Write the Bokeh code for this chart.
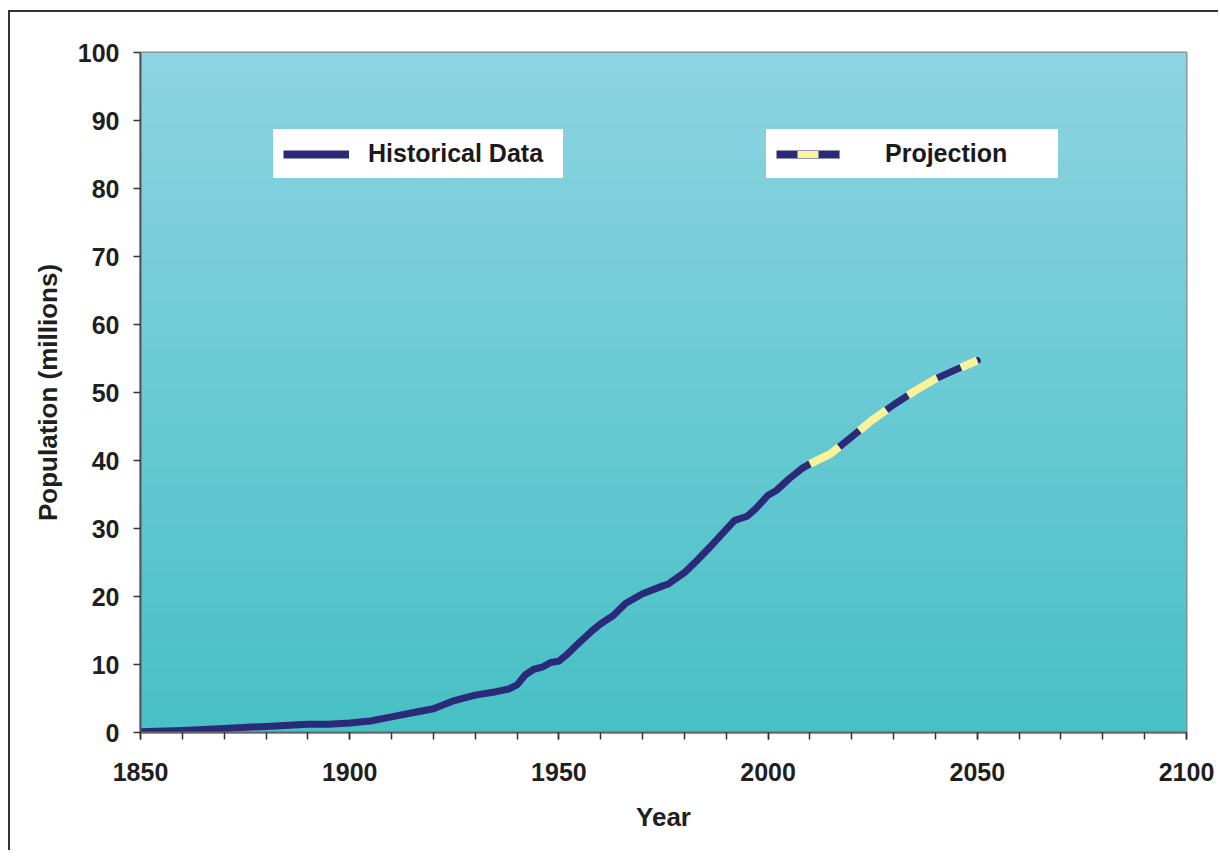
import numpy as np
from bokeh.plotting import figure
from bokeh.models import FixedTicker, Legend, LegendItem, ColumnDataSource, Range1d
from bokeh.embed import file_html
from bokeh.resources import INLINE

# ---- data ----
hist_years = [1850, 1860, 1870, 1880, 1890, 1895, 1900, 1905, 1910, 1915, 1920,
              1925, 1930, 1935, 1938, 1940, 1942, 1944, 1946, 1948, 1950, 1952,
              1955, 1958, 1960, 1963, 1966, 1970, 1975, 1976, 1980, 1983, 1986,
              1989, 1992, 1995, 1997, 2000, 2002, 2005, 2008, 2010]
hist_pop = [0.1, 0.3, 0.6, 0.9, 1.2, 1.2, 1.4, 1.7, 2.3, 2.9, 3.5,
            4.7, 5.5, 6.0, 6.4, 7.0, 8.5, 9.3, 9.6, 10.3, 10.5, 11.5,
            13.3, 15.0, 16.0, 17.2, 19.0, 20.4, 21.6, 21.8, 23.5, 25.3, 27.2,
            29.2, 31.2, 31.8, 32.9, 34.9, 35.6, 37.3, 38.8, 39.5]
proj_years = [2010, 2015, 2020, 2025, 2030, 2035, 2040, 2045, 2050]
proj_pop = [39.5, 41.0, 43.5, 46.0, 48.2, 50.2, 52.0, 53.4, 54.7]

x_ticks = [1850, 1900, 1950, 2000, 2050, 2100]
x_minor = list(range(1850, 2101, 10))
y_ticks = list(range(0, 101, 10))

NAVY = "#2a2a78"
YELLOW = "#faf39b"
FONT = "Liberation Sans"

p = figure(width=1210, height=840, output_backend="svg", toolbar_location=None,
           x_range=Range1d(1850, 2100), y_range=Range1d(0, 100),
           min_border_left=130, min_border_right=34, min_border_top=40,
           min_border_bottom=120, background_fill_color="#6cc9d4",
           border_fill_color="white")
p.styles = {"margin-left": "8px", "margin-top": "10px",
            "border-top": "2px solid #333333", "border-left": "2px solid #333333"}

# gradient background of the plot area
n = 200
top = np.array([141, 213, 226], dtype=float)
bot = np.array([72, 192, 198], dtype=float)
t = np.linspace(0, 1, n)[:, None]
cols = (bot * (1 - t) + top * t).astype(np.uint32)
img = np.zeros((n, 1), dtype=np.uint32)
view = img.view(dtype=np.uint8).reshape((n, 1, 4))
view[:, 0, 0] = cols[:, 0]
view[:, 0, 1] = cols[:, 1]
view[:, 0, 2] = cols[:, 2]
view[:, 0, 3] = 255
p.image_rgba(image=[img], x=1850, y=0, dw=250, dh=100)

# lines
p.line(hist_years, hist_pop, line_color=NAVY, line_width=7, line_join="round", line_cap="round")
p.line(proj_years, proj_pop, line_color=NAVY, line_width=7, line_join="round", line_cap="round")
p.line(proj_years, proj_pop, line_color=YELLOW, line_width=8, line_dash="34 26", line_cap="butt")

# legend-only renderers (no visible marks)
proxy = ColumnDataSource(dict(x=[np.nan], y=[np.nan]))
lg_h = p.line("x", "y", source=proxy, line_color=NAVY, line_width=8)
lg_p1 = p.line("x", "y", source=proxy, line_color=NAVY, line_width=8)
lg_p2 = p.line("x", "y", source=proxy, line_color=YELLOW, line_width=7,
               line_dash="21 21", line_dash_offset=21)

def make_legend(label, rends, loc, gw, standoff, lw):
    return Legend(items=[LegendItem(label=label, renderers=rends)], location=loc,
                  orientation="horizontal", padding=9, margin=0, spacing=0,
                  glyph_width=gw, glyph_height=20, label_height=21,
                  label_standoff=standoff, label_width=lw,
                  label_text_font=FONT, label_text_font_style="bold",
                  label_text_font_size="25px", label_text_color="#1a1a1a",
                  label_text_baseline="middle",
                  background_fill_color="white", background_fill_alpha=1.0,
                  border_line_color="white", border_line_width=1)

p.add_layout(make_legend("Historical Data", [lg_h], (133, 554), 66, 19, 185), "center")
p.add_layout(make_legend("Projection", [lg_p1, lg_p2], (626, 554), 64, 45, 163), "center")

# grid
p.xgrid.visible = False
p.ygrid.ticker = FixedTicker(ticks=y_ticks)
p.ygrid.grid_line_color = "#1e2f32"
p.ygrid.grid_line_width = 1.2

p.outline_line_color = "#888888"
p.outline_line_width = 2

# axes
p.xaxis.ticker = FixedTicker(ticks=x_ticks, minor_ticks=x_minor)
p.yaxis.ticker = FixedTicker(ticks=y_ticks, minor_ticks=[])
for ax in (p.xaxis[0], p.yaxis[0]):
    ax.major_label_text_font = FONT
    ax.major_label_text_font_style = "bold"
    ax.major_label_text_font_size = "25px"
    ax.major_label_text_color = "#1f1f1f"
    ax.axis_label_text_font = FONT
    ax.axis_label_text_font_style = "bold"
    ax.axis_label_text_font_size = "26px"
    ax.axis_label_text_color = "#1f1f1f"
    ax.major_tick_in = 0
    ax.major_tick_out = 7
    ax.minor_tick_in = 0
    ax.minor_tick_out = 7
    ax.major_tick_line_color = "#333333"
    ax.minor_tick_line_color = "#333333"
    ax.major_tick_line_width = 1.5
    ax.minor_tick_line_width = 1.5
    ax.axis_line_width = 2

p.xaxis.axis_line_color = "#666666"
p.yaxis.axis_line_color = "#555555"
p.xaxis.axis_label = "Year"
p.yaxis.axis_label = "Population (millions)"
p.xaxis.major_label_standoff = 23
p.xaxis.axis_label_standoff = 18
p.yaxis.major_label_standoff = 14
p.yaxis.axis_label_standoff = 12

open("out.html", "w").write(file_html(p, INLINE))
